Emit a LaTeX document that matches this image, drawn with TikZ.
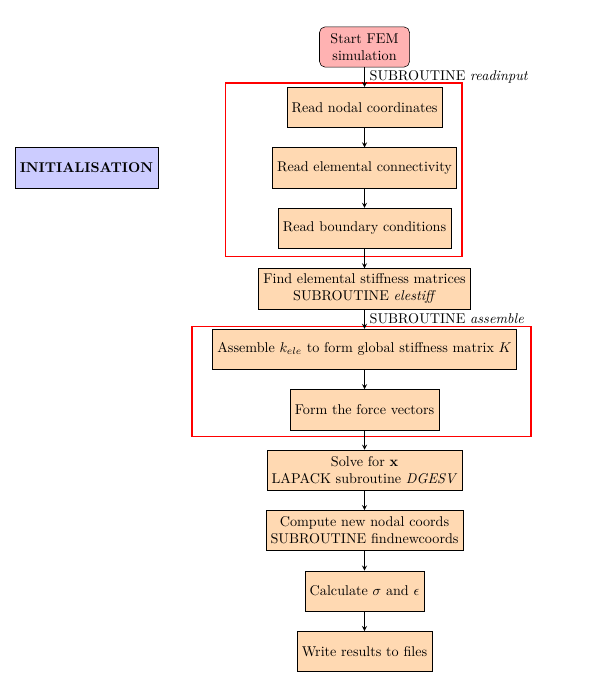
\documentclass[tikz,border=0pt]{standalone}
\usetikzlibrary{arrows,calc}
\begin{document}
\begin{tikzpicture}[startstop/.style={rectangle,rounded corners,text width=2cm,align=center,minimum height=1cm,draw=black,fill=red!30},
process/.style={rectangle,minimum height=1cm,align=center,draw=black,fill=orange!30},
phase/.style={rectangle,minimum height=1cm,draw=black,fill=blue!20,font=\bfseries},
arrow/.style={->,>=stealth,semithick},
group/.style={draw=red,thick}]
\useasboundingbox (-9.045,1.166) rectangle (5.67,-15.93);
\node[startstop] (start) at (0,0) {Start FEM simulation};
\node[process] (rnodal) at (0,-1.5) {Read nodal coordinates};
\node[process] (relem) at (0,-3) {Read elemental connectivity};
\node[process] (rbound) at (0,-4.5) {Read boundary conditions};
\node[process] (find) at (0,-6) {Find elemental stiffness matrices\\SUBROUTINE \textit{elestiff}};
\node[process] (assem) at (0,-7.5) {Assemble $k_{ele}$ to form global stiffness matrix $K$};
\node[process] (force) at (0,-9) {Form the force vectors};
\node[process] (solve) at (0,-10.5) {Solve for $\mathbf{x}$\\LAPACK subroutine \textit{DGESV}};
\node[process] (newc) at (0,-12) {Compute new nodal coords\\SUBROUTINE findnewcoords};
\node[process] (calc) at (0,-13.5) {Calculate $\sigma$ and $\epsilon$};
\node[process] (write) at (0,-15) {Write results to files};
\node[phase] (init) at (-6.9,-3) {INITIALISATION};
% groups
\draw[group] ($(rnodal.north)+(-3.44,0.1)$) rectangle ($(rbound.south)+(2.42,-0.2)$);
\draw[group] ($(assem.north)+(-4.28,0.05)$) rectangle ($(force.south)+(4.13,-0.15)$);
% arrows
\draw[arrow] (start) -- node[right] {SUBROUTINE \textit{readinput}} (rnodal);
\draw[arrow] (find) -- node[right] {SUBROUTINE \textit{assemble}} (assem);
\foreach \a/\b in {rnodal/relem,relem/rbound,rbound/find,assem/force,force/solve,solve/newc,newc/calc,calc/write}
  {\draw[arrow] (\a) -- (\b);}
\end{tikzpicture}
\end{document}
